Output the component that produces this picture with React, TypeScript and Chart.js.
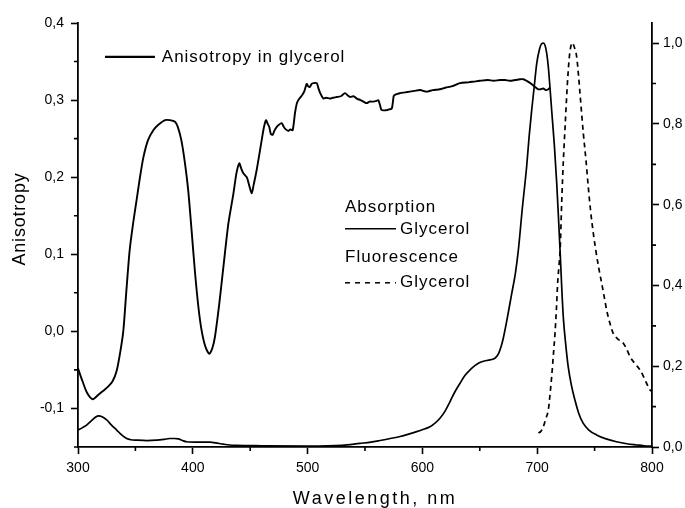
import React, { useEffect, useRef } from "react";
import { Chart, registerables } from "chart.js";

Chart.register(...registerables);

// ---------- data ----------
const anisoX = [300, 304, 308, 312.8, 318, 322, 326, 330, 333.7, 337, 339.5, 342, 345, 348, 351, 354, 357, 361, 365.6, 370, 375.8, 380, 384.5, 387, 390, 393, 396, 399, 402, 405, 407.7, 411, 414.4, 417, 419.3, 423, 426.6, 431, 435.3, 438, 440.5, 442, 444, 447, 449, 451.3, 453, 455.6, 458, 460, 462, 463.8, 465, 466.6, 468, 469.6, 471, 473, 475, 477.4, 479, 480.3, 483.2, 485, 487, 489, 490.5, 492, 495, 497, 499.2, 500.5, 502, 503.5, 505, 508, 509.5, 511, 513.7, 516, 519.5, 522, 525.4, 529, 532.6, 535, 537, 540, 542.8, 546, 548.6, 551.5, 554, 557.2, 560, 561.6, 563, 564.5, 568.9, 571, 573.3, 574.5, 575.3, 580.5, 585, 589, 593, 598, 603.7, 609, 615.3, 620, 626, 632.8, 640, 645, 650, 657, 662, 667.6, 672, 676, 681, 685, 688, 690.8, 694, 696.6, 699, 701, 703, 705.3, 707.5, 709.7, 711];
const anisoY = [-0.048, -0.065, -0.08, -0.088, -0.082, -0.077, -0.072, -0.065, -0.051, -0.025, 0.001, 0.05, 0.105, 0.14, 0.17, 0.2, 0.226, 0.248, 0.261, 0.268, 0.274, 0.274, 0.272, 0.265, 0.248, 0.22, 0.183, 0.13, 0.075, 0.03, 0.001, -0.02, -0.029, -0.022, -0.007, 0.035, 0.083, 0.14, 0.178, 0.205, 0.218, 0.212, 0.205, 0.2, 0.19, 0.179, 0.19, 0.209, 0.23, 0.248, 0.265, 0.274, 0.27, 0.265, 0.256, 0.255, 0.26, 0.265, 0.268, 0.27, 0.266, 0.263, 0.26, 0.262, 0.261, 0.283, 0.295, 0.3, 0.306, 0.311, 0.321, 0.318, 0.317, 0.321, 0.322, 0.322, 0.315, 0.309, 0.302, 0.303, 0.302, 0.303, 0.304, 0.305, 0.309, 0.306, 0.304, 0.305, 0.302, 0.3, 0.298, 0.296, 0.298, 0.298, 0.299, 0.3, 0.294, 0.287, 0.287, 0.288, 0.289, 0.3, 0.306, 0.309, 0.31, 0.311, 0.312, 0.313, 0.311, 0.313, 0.314, 0.316, 0.318, 0.322, 0.323, 0.324, 0.325, 0.326, 0.325, 0.326, 0.326, 0.325, 0.326, 0.327, 0.327, 0.325, 0.322, 0.319, 0.316, 0.314, 0.314, 0.315, 0.313, 0.314, 0.316];

const absX = [300, 304, 307.5, 312, 317.7, 321, 325, 329, 333.7, 338, 342.4, 346, 351, 360, 368.5, 375, 380, 384, 387.4, 391, 394.7, 405, 415, 420, 426.6, 432, 438, 460, 500, 530, 545.6, 555, 563, 572, 580.5, 588, 595, 601, 606.6, 611, 615.3, 620, 624, 628, 632.8, 637, 641.5, 646, 650, 654, 657.6, 661.8, 664, 666.4, 668.5, 670.5, 674, 677.8, 681, 683.6, 687, 690.8, 693, 695.2, 697.5, 699.6, 702, 704, 705.5, 706.8, 708.3, 709.7, 711, 712.6, 715, 717, 718.5, 719.9, 721.3, 722.7, 725, 727, 730, 732.9, 736, 740, 745, 751.7, 760, 769, 778, 786.6, 793, 800];
const absY = [0.042, 0.048, 0.054, 0.066, 0.077, 0.075, 0.067, 0.055, 0.042, 0.03, 0.021, 0.018, 0.017, 0.016, 0.017, 0.019, 0.021, 0.021, 0.02, 0.016, 0.013, 0.012, 0.012, 0.01, 0.007, 0.005, 0.004, 0.003, 0.002, 0.004, 0.009, 0.012, 0.016, 0.021, 0.026, 0.032, 0.038, 0.044, 0.05, 0.059, 0.071, 0.09, 0.112, 0.135, 0.158, 0.177, 0.191, 0.202, 0.209, 0.213, 0.215, 0.218, 0.222, 0.232, 0.248, 0.27, 0.32, 0.38, 0.43, 0.488, 0.59, 0.694, 0.77, 0.834, 0.895, 0.95, 0.985, 0.999, 1.0, 0.995, 0.975, 0.941, 0.895, 0.834, 0.745, 0.653, 0.57, 0.488, 0.4, 0.323, 0.25, 0.199, 0.15, 0.116, 0.085, 0.059, 0.042, 0.03, 0.02, 0.013, 0.008, 0.005, 0.003, 0.002];

const fluoX = [701, 703, 705.3, 707.5, 709.7, 711, 712.6, 714, 715.5, 716.8, 717.8, 719, 720, 721.4, 722.8, 724.3, 726.3, 728, 729.5, 730.6, 732, 734.4, 736, 737.3, 740.2, 742.5, 744.5, 746.5, 748.9, 751, 753.5, 756.2, 758.5, 760.5, 763.5, 766.3, 770, 775, 778, 780.8, 785, 789.5, 793, 796.8, 799];
const fluoY = [0.035, 0.038, 0.05, 0.07, 0.092, 0.125, 0.174, 0.225, 0.281, 0.345, 0.405, 0.45, 0.488, 0.611, 0.71, 0.793, 0.9, 0.966, 0.995, 1.001, 0.993, 0.966, 0.92, 0.875, 0.776, 0.71, 0.644, 0.585, 0.529, 0.488, 0.445, 0.405, 0.37, 0.339, 0.305, 0.281, 0.268, 0.257, 0.242, 0.224, 0.207, 0.191, 0.172, 0.149, 0.138];

const xTicks = [300, 400, 500, 600, 700, 800];
const xMinor = [350, 450, 550, 650, 750];
const yTicks = [-0.1, 0.0, 0.1, 0.2, 0.3, 0.4];
const yMinor = [-0.15, -0.05, 0.05, 0.15, 0.25, 0.35];
const y1Ticks = [0.0, 0.2, 0.4, 0.6, 0.8, 1.0];
const y1Minor = [0.1, 0.3, 0.5, 0.7, 0.9];

const xTitle = "Wavelength, nm";
const yTitle = "Anisotropy";
const legendMain = "Anisotropy in glycerol";
const legendAbsHead = "Absorption";
const legendFluoHead = "Fluorescence";
const legendSample = "Glycerol";

const FONT = '"Liberation Sans", Arial, sans-serif';

const fmt = (v: number, d: number) => v.toFixed(d).replace(".", ",").replace("-0,0", "0,0");

const toPts = (xs: number[], ys: number[]) => xs.map((x, i) => ({ x, y: ys[i] }));

export default function App() {
  const ref = useRef<HTMLCanvasElement | null>(null);

  useEffect(() => {
    if (!ref.current) return;

    const decor = {
      id: "decor",
      afterDraw(chart: any) {
        const { ctx, chartArea } = chart;
        const sx = chart.scales.x;
        const sy = chart.scales.y;
        const sy1 = chart.scales.y1;
        ctx.save();
        ctx.strokeStyle = "#000";
        ctx.lineWidth = 1.6;
        ctx.beginPath();
        xMinor.forEach((v) => {
          const p = sx.getPixelForValue(v);
          ctx.moveTo(p, chartArea.bottom);
          ctx.lineTo(p, chartArea.bottom + 4);
        });
        yMinor.forEach((v) => {
          const p = sy.getPixelForValue(v);
          ctx.moveTo(chartArea.left - 4, p);
          ctx.lineTo(chartArea.left, p);
        });
        y1Minor.forEach((v) => {
          const p = sy1.getPixelForValue(v);
          ctx.moveTo(chartArea.right, p);
          ctx.lineTo(chartArea.right + 4, p);
        });
        ctx.stroke();

        // axis titles
        ctx.fillStyle = "#000";
        ctx.font = `18px ${FONT}`;
        (ctx as any).letterSpacing = "2.5px";
        ctx.textAlign = "center";
        ctx.textBaseline = "alphabetic";
        ctx.fillText(xTitle, (chartArea.left + chartArea.right) / 2 + 10, 504);
        ctx.save();
        (ctx as any).letterSpacing = "0.8px";
        ctx.translate(25, (chartArea.top + chartArea.bottom) / 2 - 16);
        ctx.rotate(-Math.PI / 2);
        ctx.fillText(yTitle, 0, 0);
        ctx.restore();

        // legends
        ctx.font = `17px ${FONT}`;
        (ctx as any).letterSpacing = "1px";
        ctx.textAlign = "left";
        ctx.textBaseline = "middle";
        const px = (v: number) => sx.getPixelForValue(v);
        const py = (v: number) => sy.getPixelForValue(v);

        // main legend
        ctx.lineWidth = 2.2;
        ctx.beginPath();
        ctx.moveTo(px(323.5), py(0.356));
        ctx.lineTo(px(367), py(0.356));
        ctx.stroke();
        ctx.fillText(legendMain, px(373), py(0.356));

        // absorption / fluorescence legend
        ctx.fillText(legendAbsHead, px(532.6), py(0.161));
        ctx.lineWidth = 1.5;
        ctx.beginPath();
        ctx.moveTo(px(532.6), py(0.133));
        ctx.lineTo(px(577), py(0.133));
        ctx.stroke();
        ctx.fillText(legendSample, px(580.5), py(0.133));
        ctx.fillText(legendFluoHead, px(532.6), py(0.0965));
        ctx.setLineDash([5, 5]);
        ctx.beginPath();
        ctx.moveTo(px(532.6), py(0.063));
        ctx.lineTo(px(577), py(0.063));
        ctx.stroke();
        ctx.setLineDash([]);
        ctx.fillText(legendSample, px(580.5), py(0.063));
        ctx.restore();
      },
    };

    const tickFont = { family: FONT, size: 14 };

    const chart = new Chart(ref.current, {
      type: "line",
      data: {
        datasets: [
          {
            label: "Anisotropy in glycerol",
            data: toPts(anisoX, anisoY),
            yAxisID: "y",
            borderColor: "#000",
            borderWidth: 1.9,
            pointRadius: 0,
            tension: 0.25,
            fill: false,
          },
          {
            label: "Absorption Glycerol",
            data: toPts(absX, absY),
            yAxisID: "y1",
            borderColor: "#000",
            borderWidth: 1.7,
            pointRadius: 0,
            cubicInterpolationMode: "monotone",
            fill: false,
          },
          {
            label: "Fluorescence Glycerol",
            data: toPts(fluoX, fluoY),
            yAxisID: "y1",
            borderColor: "#000",
            borderWidth: 1.7,
            borderDash: [5, 4],
            pointRadius: 0,
            cubicInterpolationMode: "monotone",
            fill: false,
          },
        ],
      },
      options: {
        responsive: false,
        animation: false,
        layout: { padding: { top: 23, left: 0, right: 0, bottom: 0 } },
        plugins: { legend: { display: false }, tooltip: { enabled: false } },
        scales: {
          x: {
            type: "linear",
            min: 300,
            max: 800,
            afterFit: (s: any) => { s.height = 61; },
            afterBuildTicks: (s: any) => { s.ticks = xTicks.map((v) => ({ value: v })); },
            ticks: { color: "#000", font: tickFont, padding: 6, maxRotation: 0, callback: (v: any) => String(v) },
            grid: { display: true, drawOnChartArea: false, drawTicks: true, tickLength: 7, tickWidth: 1.6, tickColor: "#000" },
            border: { display: true, color: "#000", width: 1.8 },
          },
          y: {
            type: "linear",
            position: "left",
            min: -0.15,
            max: 0.4,
            afterFit: (s: any) => { s.width = 78; },
            afterBuildTicks: (s: any) => { s.ticks = yTicks.map((v) => ({ value: v })); },
            ticks: { color: "#000", font: tickFont, padding: 7, callback: (v: any) => fmt(Number(v), 1) },
            grid: { display: true, drawOnChartArea: false, drawTicks: true, tickLength: 7, tickWidth: 1.6, tickColor: "#000" },
            border: { display: true, color: "#000", width: 1.8 },
          },
          y1: {
            type: "linear",
            position: "right",
            min: 0,
            max: 1.05,
            afterFit: (s: any) => { s.width = 33; },
            afterBuildTicks: (s: any) => { s.ticks = y1Ticks.map((v) => ({ value: v })); },
            ticks: { color: "#000", font: tickFont, padding: 4, callback: (v: any) => fmt(Number(v), 1) },
            grid: { display: true, drawOnChartArea: false, drawTicks: true, tickLength: 7, tickWidth: 1.6, tickColor: "#000" },
            border: { display: true, color: "#000", width: 1.8 },
          },
        },
      },
      plugins: [decor],
    } as any);

    return () => chart.destroy();
  }, []);

  return (
    <div style={{ position: "fixed", left: 0, top: 0, width: 685, height: 508, background: "#fff" }}>
      <canvas ref={ref} width={685} height={508} style={{ display: "block" }} />
    </div>
  );
}
